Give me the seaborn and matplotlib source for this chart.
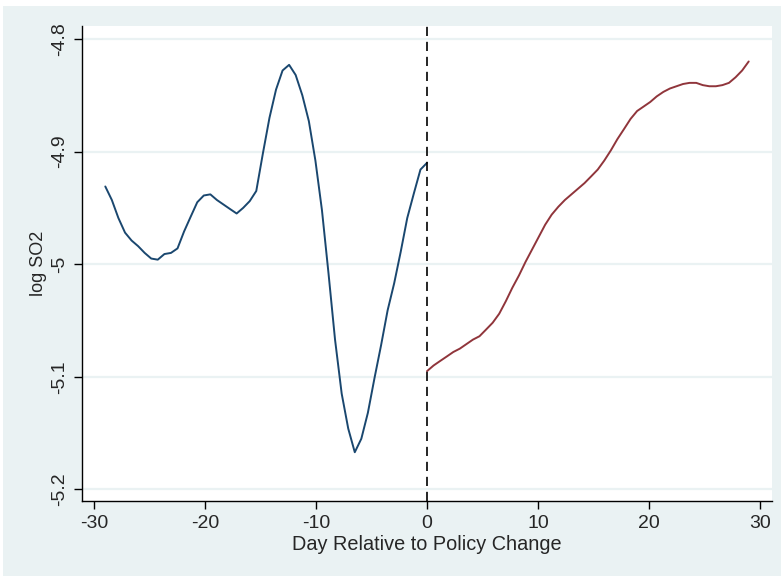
import numpy as np
import pandas as pd
import matplotlib
matplotlib.use("Agg")
import matplotlib.pyplot as plt
from matplotlib.patches import Rectangle
import seaborn as sns


# Days relative to policy change (50-point smoothing grid on each side)
days_pre = [-29.0, -28.41, -27.82, -27.22, -26.63, -26.04, -25.45, -24.86, -24.27, -23.67,
            -23.08, -22.49, -21.90, -21.31, -20.71, -20.12, -19.53, -18.94, -18.35, -17.76,
            -17.16, -16.57, -15.98, -15.39, -14.80, -14.20, -13.61, -13.02, -12.43, -11.84,
            -11.24, -10.65, -10.06, -9.47, -8.88, -8.29, -7.69, -7.10, -6.51, -5.92,
            -5.33, -4.73, -4.14, -3.55, -2.96, -2.37, -1.78, -1.18, -0.59, 0.0]

days_post = [0.0, 0.59, 1.18, 1.78, 2.37, 2.96, 3.55, 4.14, 4.73, 5.33,
             5.92, 6.51, 7.10, 7.69, 8.29, 8.88, 9.47, 10.06, 10.65, 11.24,
             11.84, 12.43, 13.02, 13.61, 14.20, 14.80, 15.39, 15.98, 16.57, 17.16,
             17.76, 18.35, 18.94, 19.53, 20.12, 20.71, 21.31, 21.90, 22.49, 23.08,
             23.67, 24.27, 24.86, 25.45, 26.04, 26.63, 27.22, 27.82, 28.41, 29.0]

# log SO2 before the policy change
so2_pre = [-4.931, -4.943, -4.959, -4.972, -4.979, -4.984, -4.990, -4.995, -4.996, -4.991,
           -4.990, -4.986, -4.971, -4.958, -4.945, -4.939, -4.938, -4.943, -4.947, -4.951,
           -4.955, -4.950, -4.944, -4.935, -4.902, -4.870, -4.845, -4.828, -4.823, -4.832,
           -4.850, -4.873, -4.908, -4.952, -5.008, -5.067, -5.115, -5.146, -5.167, -5.155,
           -5.132, -5.101, -5.072, -5.041, -5.017, -4.989, -4.959, -4.937, -4.916, -4.910]

# log SO2 after the policy change
so2_post = [-5.095, -5.090, -5.086, -5.082, -5.078, -5.075, -5.071, -5.067, -5.064, -5.058,
            -5.052, -5.044, -5.033, -5.021, -5.010, -4.998, -4.987, -4.976, -4.965, -4.956,
            -4.949, -4.943, -4.938, -4.933, -4.928, -4.922, -4.916, -4.908, -4.899, -4.889,
            -4.880, -4.871, -4.864, -4.860, -4.856, -4.851, -4.847, -4.844, -4.842, -4.840,
            -4.839, -4.839, -4.841, -4.842, -4.842, -4.841, -4.839, -4.834, -4.828, -4.820]

x_ticks = [-30, -20, -10, 0, 10, 20, 30]
y_ticks = [-4.8, -4.9, -5.0, -5.1, -5.2]
y_tick_labels = ["-4.8", "-4.9", "-5", "-5.1", "-5.2"]

# Stata-like colours
bg_color = "#EAF2F3"
navy = "#1A476F"
maroon = "#90353B"

sns.set_theme(style="white")
plt.rcParams["font.family"] = ["Liberation Sans", "DejaVu Sans"]

fig = plt.figure(figsize=(7.84, 5.76), dpi=100)
fig.patch.set_facecolor("white")

# outer graph region (behind the axes)
fig.patches.append(Rectangle((3 / 784, 0), 778 / 784, 570 / 576,
                             transform=fig.transFigure, facecolor=bg_color,
                             edgecolor="none", zorder=-10))

ax = fig.add_axes([82 / 784, 1 - 501 / 576, 690 / 784, 475 / 576])
ax.set_zorder(1)
ax.set_facecolor("white")

pre = pd.DataFrame({"day": days_pre, "so2": so2_pre})
post = pd.DataFrame({"day": days_post, "so2": so2_post})

sns.lineplot(data=pre, x="day", y="so2", color=navy, linewidth=1.4, ax=ax)
sns.lineplot(data=post, x="day", y="so2", color=maroon, linewidth=1.4, ax=ax)

# policy change marker
ax.axvline(0, color="black", linestyle=(0, (5.5, 3.5)), linewidth=1.2, zorder=3)

ax.set_xlim(-31.1, 31.1)
ax.set_ylim(-5.2103, -4.7885)

ax.set_xticks(x_ticks)
ax.set_xticklabels([str(t) for t in x_ticks], fontsize=14)
ax.set_yticks(y_ticks)
ax.set_yticklabels(y_tick_labels, fontsize=14, rotation=90, va="center")

# horizontal grid only
for y in y_ticks:
    ax.axhline(y, color=bg_color, linewidth=1.6, zorder=0)

ax.tick_params(axis="both", direction="out", length=6, width=1.0, color="black",
               bottom=True, left=True, pad=4)

for side in ["top", "right"]:
    ax.spines[side].set_visible(False)
for side in ["left", "bottom"]:
    ax.spines[side].set_color("black")
    ax.spines[side].set_linewidth(1.0)

ax.set_xlabel("Day Relative to Policy Change", fontsize=14.3, labelpad=2)
ax.set_ylabel("log SO2", fontsize=13, labelpad=3)

fig.savefig("out.png", dpi=100, facecolor=fig.get_facecolor())
